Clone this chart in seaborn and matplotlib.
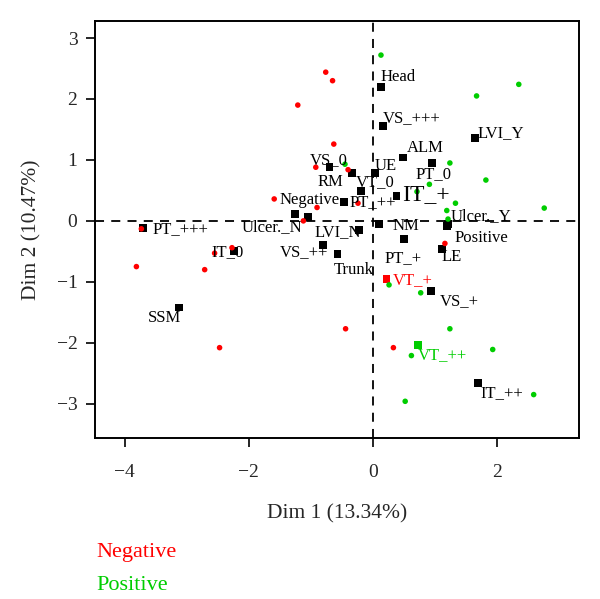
import matplotlib
matplotlib.use("Agg")
import matplotlib.pyplot as plt
import seaborn as sns
import pandas as pd

# Individuals (coloured by supplementary status)
neg_x = [-0.76, -0.65, -1.21, -0.63, -0.92, -0.40, -1.59, -0.90, -0.24, -1.12,
         -3.73, -2.27, -2.55, -3.81, -2.71, -2.47, -0.44, 0.33, 1.16]
neg_y = [2.44, 2.30, 1.90, 1.26, 0.88, 0.84, 0.36, 0.22, 0.29, 0.00,
         -0.13, -0.44, -0.53, -0.75, -0.80, -2.08, -1.77, -2.08, -0.37]
pos_x = [0.13, 2.35, 1.67, 1.24, 1.82, 0.91, 0.71, 1.33, 2.76, 1.19,
         1.21, -0.45, 0.26, 0.77, 1.24, 1.93, 0.62, 0.52, 2.59]
pos_y = [2.72, 2.24, 2.05, 0.95, 0.67, 0.60, 0.48, 0.29, 0.21, 0.17,
         0.03, 0.93, -1.05, -1.18, -1.77, -2.11, -2.21, -2.96, -2.85]

# Variable categories
cat_names = ["Head", "VS_+++", "LVI_Y", "ALM", "PT_0", "UE", "VS_0", "RM",
             "VT_0", "IT_+", "Negative", "PT_++", "Ulcer._Y", "Positive",
             "NM", "PT_+", "LE", "VT_+", "VS_+", "VT_++", "IT_++", "Trunk",
             "LVI_N", "Ulcer._N", "VS_++", "IT_0", "PT_+++", "SSM"]
cat_x = [0.13, 0.16, 1.65, 0.49, 0.95, 0.03, -0.70, -0.33,
         -0.19, 0.38, -1.05, -0.46, 1.21, 1.19,
         0.10, 0.50, 1.11, 0.22, 0.94, 0.73, 1.69, -0.57,
         -0.23, -1.26, -0.80, -2.24, -3.70, -3.13]
cat_y = [2.20, 1.56, 1.36, 1.04, 0.95, 0.78, 0.88, 0.79,
         0.49, 0.41, 0.07, 0.31, -0.05, -0.09,
         -0.05, -0.30, -0.46, -0.96, -1.15, -2.03, -2.66, -0.55,
         -0.15, 0.11, -0.40, -0.49, -0.12, -1.42]
# where each label sits (left edge, vertical centre)
lab_x = [0.12, 0.16, 1.69, 0.55, 0.69, 0.03, -1.02, -0.89,
         -0.27, 0.47, -1.50, -0.37, 1.26, 1.32,
         0.32, 0.19, 1.11, 0.32, 1.08, 0.73, 1.73, -0.63,
         -0.94, -2.11, -1.50, -2.60, -3.55, -3.63]
lab_y = [2.36, 1.69, 1.44, 1.20, 0.77, 0.90, 1.00, 0.64,
         0.64, 0.43, 0.34, 0.30, 0.08, -0.28,
         -0.08, -0.61, -0.59, -0.98, -1.31, -2.20, -2.82, -0.80,
         -0.18, -0.11, -0.52, -0.51, -0.13, -1.59]

RED = "#ff0000"
GREEN = "#00cd00"
cat_colors = {"VT_+": RED, "VT_++": GREEN}

sns.set_style("white")
plt.rcParams["font.family"] = ["Liberation Serif", "DejaVu Serif"]

fig = plt.figure(figsize=(6.0, 5.99), dpi=100)
ax = fig.add_axes([0.158, 0.269, 0.807, 0.696])

ax.axhline(0, color="black", linestyle=(0, (5, 4)), lw=1.3, zorder=1)
ax.axvline(0, color="black", linestyle=(0, (5, 4)), lw=1.3, zorder=1)

ind = pd.DataFrame({
    "x": neg_x + pos_x,
    "y": neg_y + pos_y,
    "group": ["Negative"] * len(neg_x) + ["Positive"] * len(pos_x),
})

cats = pd.DataFrame({"x": cat_x, "y": cat_y, "name": cat_names})
cats["col"] = [cat_colors.get(n, "black") for n in cat_names]
sns.scatterplot(data=cats, x="x", y="y", hue="col",
                palette={c: c for c in cats["col"].unique()},
                marker="s", s=32, linewidth=0, legend=False, ax=ax, zorder=3)

sns.scatterplot(data=ind, x="x", y="y", hue="group",
                palette={"Negative": RED, "Positive": GREEN},
                s=16, linewidth=0, legend=False, ax=ax, zorder=4)

for n, lx, ly in zip(cat_names, lab_x, lab_y):
    fs = 17 if n == "IT_+" else 12
    ax.text(lx, ly, n, ha="left", va="center", fontsize=fs,
            color=cat_colors.get(n, "black"), zorder=5)

ax.set_xlim(-4.48, 3.32)
ax.set_ylim(-3.56, 3.28)
ax.set_xticks([-4, -2, 0, 2])
ax.set_yticks([-3, -2, -1, 0, 1, 2, 3])
ax.set_xticklabels(["\u22124", "\u22122", "0", "2"])
ax.set_yticklabels(["\u22123", "\u22122", "\u22121", "0", "1", "2", "3"])
ax.tick_params(axis="both", direction="out", length=6.5, width=1.2, pad=6,
               labelsize=14, color="black", bottom=True, left=True)
ax.tick_params(axis="x", pad=12)
for sp in ax.spines.values():
    sp.set_color("black")
    sp.set_linewidth(1.4)

ax.set_xlabel("Dim 1 (13.34%)", fontsize=15.5, labelpad=17)
ax.set_ylabel("Dim 2 (10.47%)", fontsize=15.5, labelpad=11)

fig.text(0.16, 0.077, "Negative", color=RED, fontsize=16, va="center")
fig.text(0.16, 0.022, "Positive", color=GREEN, fontsize=16, va="center")

fig.savefig("out.png", dpi=100)
